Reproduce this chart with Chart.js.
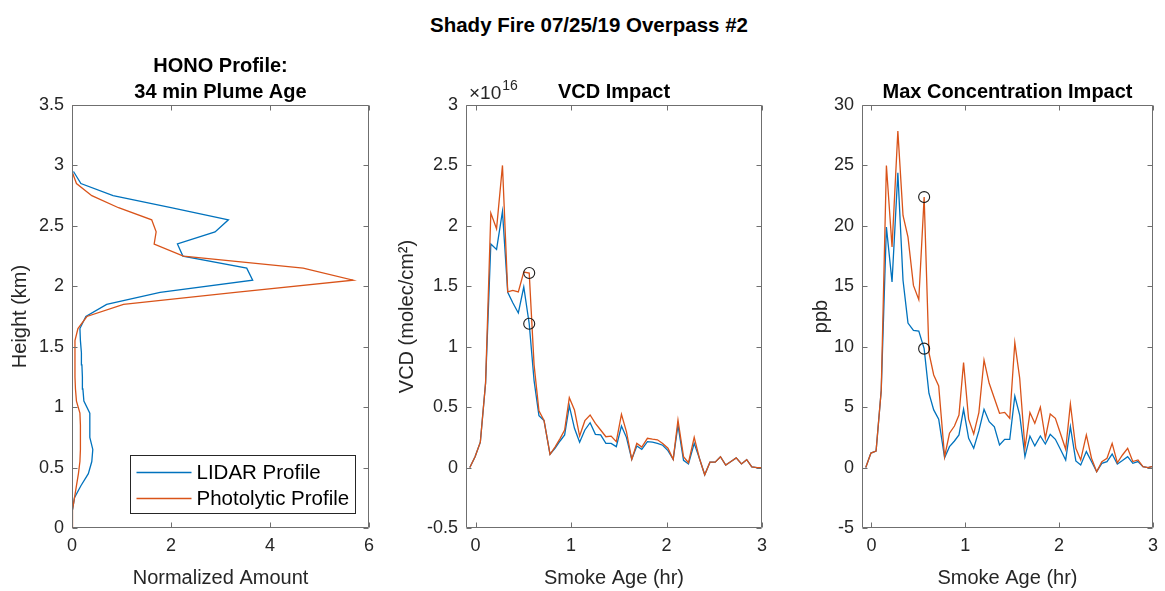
<!DOCTYPE html>
<html>
<head>
<meta charset="utf-8">
<script src="https://cdn.jsdelivr.net/npm/chart.js@4.4.0/dist/chart.umd.min.js"></script>
<style>
  body { margin: 0; background: #fff; width: 1165px; height: 591px; overflow: hidden; position: relative;
         font-family: 'Liberation Sans', Arial, Helvetica, sans-serif; }
  .panel { position: absolute; top: 0; }
  #suptitle { position: absolute; top: 13px; left: 0; width: 1178px; text-align: center;
              font-weight: bold; font-size: 20.5px; line-height: 24px; color: #000; }
</style>
</head>
<body>
<div id="suptitle">Shady Fire 07/25/19 Overpass #2</div>
<canvas id="profile" class="panel" width="390" height="591" style="left:0px"></canvas>
<canvas id="vcd" class="panel" width="390" height="591" style="left:390px"></canvas>
<canvas id="conc" class="panel" width="385" height="591" style="left:780px"></canvas>
<script>
// ---- data ----
// HONO profile (left panel): height bins in km
var heights = [0, 0.05, 0.15, 0.25, 0.35, 0.45, 0.55, 0.65, 0.75, 0.85, 0.95, 1.05, 1.15, 1.25,
  1.35, 1.45, 1.55, 1.65, 1.75, 1.85, 1.95, 2.05, 2.15, 2.25, 2.35, 2.45, 2.55, 2.65, 2.75,
  2.85, 2.95, 3.05, 3.15, 3.25, 3.35, 3.45, 3.5];
var lidarProfile = [null, null, 0.01, 0.05, 0.18, 0.33, 0.40, 0.42, 0.36, 0.36, 0.36, 0.24, 0.22, 0.21,
  0.20, 0.19, 0.17, 0.16, 0.28, 0.70, 1.78, 3.65, 3.53, 2.24, 2.13, 2.89, 3.16, 2.0, 0.83,
  0.18, 0.03, null, null, null, null, null, null];
var photoProfile = [0, 0, 0.02, 0.05, 0.09, 0.13, 0.16, 0.17, 0.17, 0.17, 0.16, 0.09, 0.07, 0.06,
  0.06, 0.06, 0.06, 0.12, 0.30, 1.04, 3.3, 5.68, 4.67, 2.25, 1.66, 1.70, 1.61, 0.94, 0.40,
  0.09, 0, 0, 0, 0, 0, 0, 0];

// Smoke age (hr) for the two impact panels
var ages = [-0.06, -0.005, 0.05, 0.105, 0.16, 0.22, 0.282, 0.337, 0.39, 0.448, 0.505, 0.562,
  0.613, 0.664, 0.717, 0.78, 0.832, 0.885, 0.933, 0.982, 1.036, 1.09, 1.145, 1.2, 1.255, 1.31,
  1.365, 1.42, 1.474, 1.528, 1.58, 1.636, 1.689, 1.741, 1.8, 1.853, 1.905, 1.96, 2.015, 2.07,
  2.12, 2.178, 2.23, 2.29, 2.345, 2.4, 2.455, 2.51, 2.565, 2.62, 2.675, 2.73, 2.785, 2.84,
  2.893, 2.947, 3.0];
var plumeIdx = 11; // 34 min plume age

// VCD in units of 1e16 molec/cm2
var vcdLidar = [0, 0.09, 0.21, 0.70, 1.85, 1.805, 2.12, 1.45, 1.364, 1.279, 1.494, 1.19,
  0.72, 0.43, 0.39, 0.11, 0.16, 0.22, 0.27, 0.51, 0.325, 0.209, 0.311, 0.371, 0.275, 0.27,
  0.2, 0.2, 0.173, 0.344, 0.25, 0.068, 0.178, 0.151, 0.215, 0.21, 0.2, 0.185, 0.14, 0.068,
  0.35, 0.06, 0.03, 0.2, 0.075, -0.06, 0.045, 0.045, 0.09, 0.02, 0.05, 0.08, 0.03, 0.065,
  0.005, 0, 0];
var vcdPhoto = [0, 0.09, 0.21, 0.70, 2.106, 1.976, 2.5, 1.453, 1.466, 1.453, 1.618, 1.61,
  0.85, 0.47, 0.39, 0.11, 0.17, 0.24, 0.31, 0.578, 0.476, 0.261, 0.388, 0.435, 0.366, 0.311,
  0.255, 0.26, 0.214, 0.44, 0.297, 0.068, 0.2, 0.17, 0.242, 0.235, 0.23, 0.2, 0.16, 0.068,
  0.394, 0.09, 0.04, 0.25, 0.075, -0.06, 0.045, 0.045, 0.09, 0.02, 0.05, 0.08, 0.03, 0.065,
  0.005, 0, 0];

// Max concentration in ppb
var concLidar = [0, 1.2, 1.37, 6.4, 19.9, 15.35, 24.4, 15.5, 11.96, 11.35, 11.3, 9.84,
  6.15, 4.77, 4.0, 0.82, 1.73, 2.2, 2.7, 4.82, 2.42, 1.6, 3.03, 4.82, 3.8, 3.38,
  1.87, 2.34, 2.34, 5.92, 4.35, 0.9, 2.61, 1.79, 2.61, 1.95, 2.75, 2.34, 1.5, 0.63,
  3.38, 0.55, 0.21, 1.32, 0.5, -0.34, 0.35, 0.49, 1.12, 0.3, 0.58, 0.9, 0.35, 0.5,
  0.08, 0, 0.1];
var concPhoto = [0, 1.2, 1.37, 6.4, 25.0, 18.25, 27.84, 20.86, 19.07, 15.07, 13.89, 22.38,
  9.5, 7.66, 6.75, 0.9, 2.84, 3.44, 4.35, 8.68, 4.0, 2.78, 4.55, 8.9, 6.97, 5.73,
  4.49, 4.57, 4.08, 10.33, 7.39, 1.6, 4.55, 3.66, 4.99, 2.42, 4.43, 4.08, 2.8, 1.51,
  5.26, 1.6, 0.63, 2.7, 0.77, -0.34, 0.49, 0.77, 2.0, 0.4, 1.04, 1.6, 0.5, 0.63,
  0.08, 0, 0.1];

// tick labels
var profileXTicks = [0, 2, 4, 6];
var profileYTicks = [0, 0.5, 1, 1.5, 2, 2.5, 3, 3.5];
var ageTicks = [0, 1, 2, 3];
var vcdTicks = [-0.5, 0, 0.5, 1, 1.5, 2, 2.5, 3];
var concTicks = [-5, 0, 5, 10, 15, 20, 25, 30];

var BLUE = '#0072BD', ORANGE = '#D95319', AXIS = '#262626';

Chart.defaults.font.family = "'Liberation Sans', Arial, Helvetica, sans-serif";
Chart.defaults.color = AXIS;

// MATLAB style box, inward ticks, exponent label and legend
var matlabAxes = {
  id: 'matlabAxes',
  afterDatasetsDraw: function(chart, args, opts) {
    var ctx = chart.ctx, a = chart.chartArea, sx = chart.scales.x, sy = chart.scales.y;
    var L = Math.round(a.left) + 0.5, R = Math.round(a.right) - 0.5;
    var T = Math.round(a.top) + 0.5, B = Math.round(a.bottom) - 0.5;
    ctx.save();
    ctx.strokeStyle = opts.color;
    ctx.lineWidth = 1;
    ctx.beginPath();
    ctx.rect(L, T, R - L, B - T);
    sx.ticks.forEach(function(t) {
      var px = Math.round(sx.getPixelForValue(t.value)) + 0.5;
      ctx.moveTo(px, B); ctx.lineTo(px, B - 5);
      ctx.moveTo(px, T); ctx.lineTo(px, T + 5);
    });
    sy.ticks.forEach(function(t) {
      var py = Math.round(sy.getPixelForValue(t.value)) + 0.5;
      ctx.moveTo(L, py); ctx.lineTo(L + 5, py);
      ctx.moveTo(R, py); ctx.lineTo(R - 5, py);
    });
    ctx.stroke();

    var fam = Chart.defaults.font.family;
    if (opts.exponent) {
      ctx.fillStyle = AXIS;
      ctx.textBaseline = 'alphabetic';
      ctx.textAlign = 'left';
      ctx.font = '19px ' + fam;
      ctx.fillText('\u00d710', a.left + 3, a.top - 6);
      var w = ctx.measureText('\u00d710').width;
      ctx.font = '14px ' + fam;
      ctx.fillText(opts.exponent, a.left + 4 + w, a.top - 15);
    }

    if (opts.legend) {
      var bw = 225, bh = 58;
      var bx = Math.round(a.right - 14 - bw) + 0.5, by = Math.round(a.bottom - 15 - bh) + 0.5;
      ctx.fillStyle = '#fff';
      ctx.fillRect(bx, by, bw, bh);
      ctx.strokeStyle = AXIS;
      ctx.strokeRect(bx, by, bw, bh);
      ctx.font = '20.5px ' + fam;
      ctx.textBaseline = 'middle';
      ctx.textAlign = 'left';
      chart.data.datasets.forEach(function(ds, i) {
        var y = Math.round(by + 16 + i * 26) + 0.5;
        ctx.strokeStyle = ds.borderColor;
        ctx.lineWidth = 1.3;
        ctx.beginPath();
        ctx.moveTo(bx + 6, y); ctx.lineTo(bx + 61, y);
        ctx.stroke();
        ctx.fillStyle = '#000';
        ctx.fillText(ds.label, bx + 66, y + 1);
      });
    }
    ctx.restore();
  }
};

function fmt(v) { return String(v); }

function axis(min, max, tickVals, fixed, horizontal, title, titlePad) {
  return {
    type: 'linear',
    min: min,
    max: max,
    afterBuildTicks: function(s) { s.ticks = tickVals.map(function(v) { return { value: v }; }); },
    afterFit: function(s) { if (horizontal) { s.height = fixed; } else { s.width = fixed; } },
    grid: { display: false, drawTicks: false },
    border: { display: false },
    ticks: { autoSkip: false, maxRotation: 0, padding: horizontal ? 7 : 8, color: AXIS,
             font: { size: 18 }, callback: fmt },
    title: { display: true, text: title, color: AXIS, font: { size: 20 }, padding: titlePad }
  };
}

function line(label, xs, ys, color, order) {
  var pts = xs.map(function(x, i) { return { x: x, y: ys[i] }; })
              .filter(function(p) { return p.x !== null && p.y !== null; });
  return { label: label, data: pts, borderColor: color, backgroundColor: color,
           borderWidth: 1.3, pointRadius: 0, tension: 0, order: order };
}

function markers(ys1, ys2) {
  return { label: 'plume age', data: [{ x: ages[plumeIdx], y: ys1[plumeIdx] }, { x: ages[plumeIdx], y: ys2[plumeIdx] }],
           showLine: false, pointRadius: 5.5, pointHoverRadius: 5.5, pointStyle: 'circle',
           borderColor: '#1a1a1a', backgroundColor: 'rgba(0,0,0,0)', pointBorderWidth: 1.1, order: 0 };
}

function baseOptions(padTop, padRight, titleText, pluginOpts, scales) {
  return {
    responsive: false,
    animation: false,
    layout: { padding: { top: padTop, right: padRight, bottom: 0, left: 0 } },
    plugins: {
      legend: { display: false },
      tooltip: { enabled: false },
      title: { display: true, fullSize: false, text: titleText, color: '#000', padding: 0,
               font: { size: 20, weight: 'bold', lineHeight: 1.3 } },
      matlabAxes: pluginOpts
    },
    scales: scales
  };
}

// Left: HONO profile
new Chart(document.getElementById('profile'), {
  type: 'line',
  data: { datasets: [
    line('LIDAR Profile', lidarProfile, heights, BLUE, 2),
    line('Photolytic Profile', photoProfile, heights, ORANGE, 1)
  ] },
  options: baseOptions(53, 21, ['HONO Profile:', '34 min Plume Age'],
    { color: '#6f6f6f', legend: true },
    { x: axis(0, 6, profileXTicks, 63, true, 'Normalized Amount', { top: 0, bottom: 1 }),
      y: axis(0, 3.5, profileYTicks, 72, false, 'Height (km)', { top: 8, bottom: 0 }) }),
  plugins: [matlabAxes]
});

// Middle: VCD impact
new Chart(document.getElementById('vcd'), {
  type: 'line',
  data: { datasets: [
    line('LIDAR', ages, vcdLidar, BLUE, 2),
    line('Photolytic', ages, vcdPhoto, ORANGE, 1),
    markers(vcdPhoto, vcdLidar)
  ] },
  options: baseOptions(79, 18, 'VCD Impact',
    { color: '#6f6f6f', exponent: '16' },
    { x: axis(-0.1, 3, ageTicks, 63, true, 'Smoke Age (hr)', { top: 0, bottom: 1 }),
      y: axis(-0.5, 3, vcdTicks, 76, false, 'VCD (molec/cm\u00b2)', { top: 5, bottom: 0 }) }),
  plugins: [matlabAxes]
});

// Right: max concentration impact
new Chart(document.getElementById('conc'), {
  type: 'line',
  data: { datasets: [
    line('LIDAR', ages, concLidar, BLUE, 2),
    line('Photolytic', ages, concPhoto, ORANGE, 1),
    markers(concPhoto, concLidar)
  ] },
  options: baseOptions(79, 7, 'Max Concentration Impact',
    { color: '#6f6f6f' },
    { x: axis(-0.1, 3, ageTicks, 63, true, 'Smoke Age (hr)', { top: 0, bottom: 1 }),
      y: axis(-5, 30, concTicks, 82, false, 'ppb', { top: 29, bottom: 0 }) }),
  plugins: [matlabAxes]
});
</script>
</body>
</html>
